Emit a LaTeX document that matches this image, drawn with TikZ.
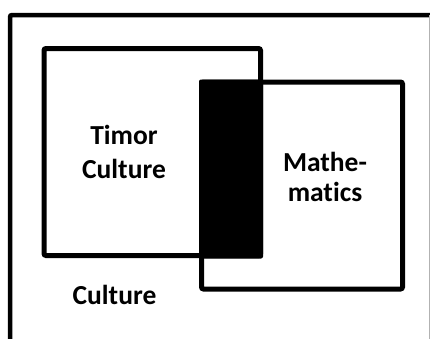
\documentclass[tikz,border=0pt]{standalone}
\usepackage{fontspec}
\setmainfont[Ligatures={NoCommon}]{Carlito}
\begin{document}
\begin{tikzpicture}[x=1pt,y=-1pt,
  frame/.style={draw=black,line width=5pt,rounded corners=2pt},
  label/.style={font=\bfseries\fontsize{27.5}{33.5}\selectfont,align=center,text=black,inner sep=0pt}]
\useasboundingbox (0,0) rectangle (430,338);
\clip (0,0) rectangle (430,338);
\fill[white] (0,0) rectangle (430,338);
% outer frame (cut at right and bottom)
\coordinate (ob) at (10,345);
\coordinate (otl) at (10,15);
\coordinate (otr) at (435,15);
\draw[line width=4.5pt,rounded corners=2pt] (ob) -- (otl) -- (otr);
\draw[gray!60,line width=0.8pt] (429,15) -- (429,345);
% Timor culture box
\draw[frame] (44,48.5) rectangle (260.5,255.5);
% Mathematics box
\draw[frame] (201.5,82) rectangle (402.5,289);
% overlap
\fill[black,rounded corners=2pt] (199,79.5) rectangle (263,258.5);
\node[label] (timor) at (124,152) {Timor\\Culture};
\node[label,font=\bfseries\fontsize{27.5}{30}\selectfont] (math) at (325,176.5) {Mathe-\\matics};
\node[label,anchor=base] (cult) at (114.5,304) {Culture};
\end{tikzpicture}
\end{document}
